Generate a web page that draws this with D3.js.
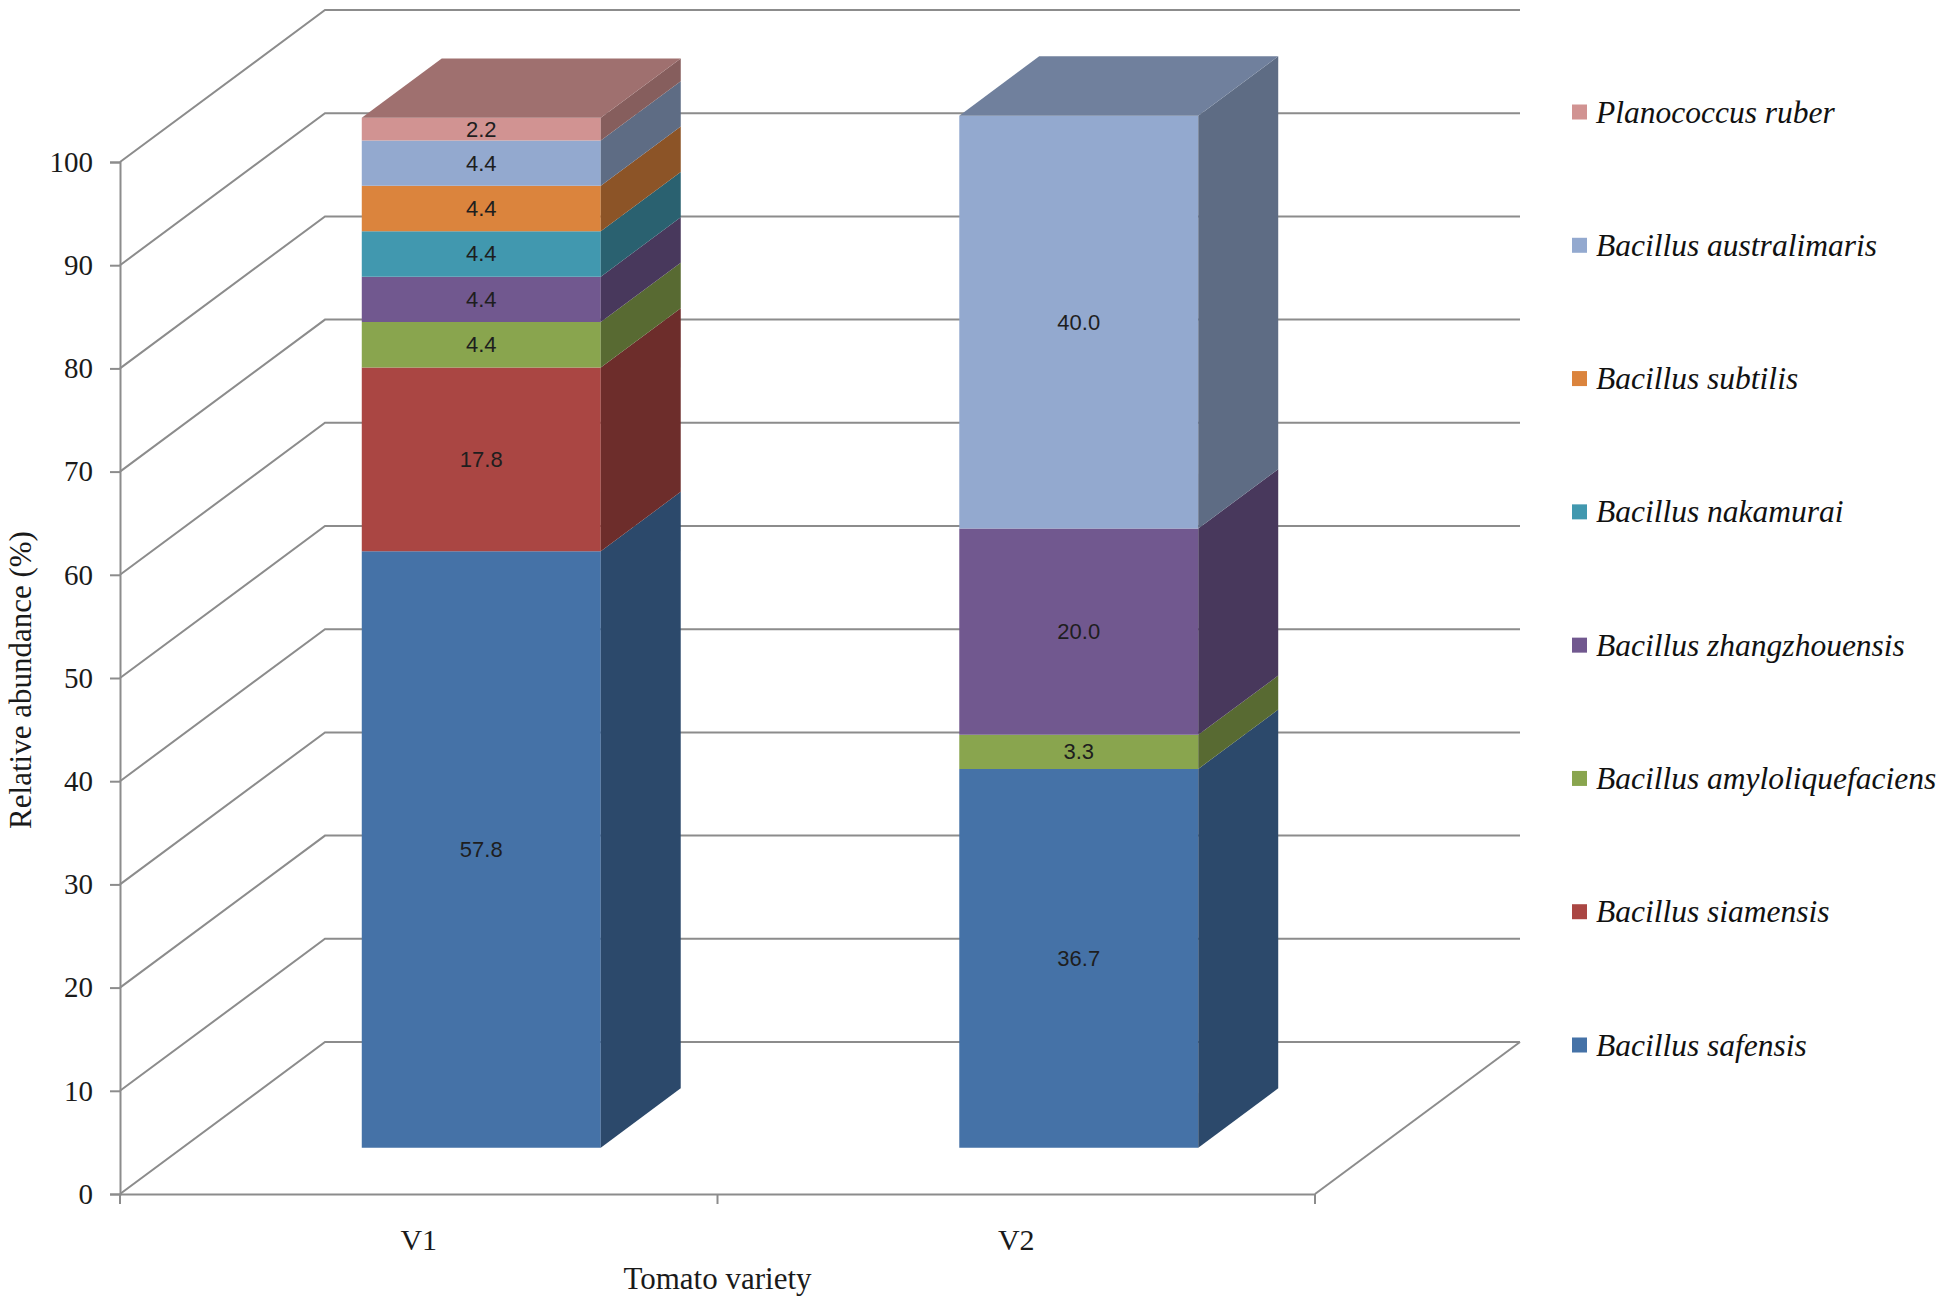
<!DOCTYPE html>
<html>
<head>
<meta charset="utf-8">
<script src="https://cdn.jsdelivr.net/npm/d3@7/dist/d3.min.js"></script>
<style>
  html, body { margin: 0; padding: 0; background: #ffffff; }
  svg { display: block; }
</style>
</head>
<body>
<script>
// ---------------- data ----------------
const categories = ["V1", "V2"];
const species = [
  "Bacillus safensis",
  "Bacillus siamensis",
  "Bacillus amyloliquefaciens",
  "Bacillus zhangzhouensis",
  "Bacillus nakamurai",
  "Bacillus subtilis",
  "Bacillus australimaris",
  "Planococcus ruber"
];
const v1Values = [57.8, 17.8, 4.4, 4.4, 4.4, 4.4, 4.4, 2.2];
const v2Values = [36.7, 0, 3.3, 20.0, 0, 0, 40.0, 0];
const yTicks = [0, 10, 20, 30, 40, 50, 60, 70, 80, 90, 100];
const colors = ["#4572A7", "#AA4643", "#89A54E", "#71588F", "#4198AF", "#DB843D", "#93A9CF", "#D19392"];
const xTitle = "Tomato variety";
const yTitle = "Relative abundance (%)";

// ---------------- layout ----------------
const W = 1950, H = 1299;
const DX = 205, DY = 152;          // full depth of the 3D box
const dFront = 0.305, dBack = 0.695; // bar depth range (fraction)
const gridColor = "#8c8c8c";

const svg = d3.select("body").append("svg")
  .attr("width", W).attr("height", H);

const y = d3.scaleLinear().domain([0, 100]).range([1194, 162]);
const x = d3.scaleBand().domain(categories).range([120, 1315]).padding(0);
const barW = x.bandwidth() * 0.4;

const proj = (px, v, d) => [px + d * DX, y(v) - d * DY];
const poly = pts => pts.map(p => p.join(",")).join(" ");

// ---------------- gridlines (walls) ----------------
const grid = svg.append("g").attr("fill", "none").attr("stroke", gridColor).attr("stroke-width", 2);
yTicks.forEach(t => {
  const a = proj(x.range()[0], t, 0), b = proj(x.range()[0], t, 1);
  grid.append("polyline").attr("points", poly([a, b, [x.range()[1] + DX, b[1]]]));
});
// floor right edge
grid.append("line")
  .attr("x1", x.range()[1]).attr("y1", y(0))
  .attr("x2", x.range()[1] + DX).attr("y2", y(0) - DY);

// ---------------- bars ----------------
const seriesByCat = { V1: v1Values, V2: v2Values };
const shade = (c, k) => { const r = d3.rgb(c); return d3.rgb(r.r * k, r.g * k, r.b * k).formatHex(); };

const bars = svg.append("g");
categories.forEach(cat => {
  const vals = seriesByCat[cat];
  const x0 = x(cat) + (x.bandwidth() - barW) / 2;
  const x1 = x0 + barW;
  let cum = 0;
  const segs = vals.map((v, i) => { const s = { v, i, lo: cum, hi: cum + v }; cum += v; return s; })
                   .filter(s => s.v > 0);
  segs.forEach((s, k) => {
    const col = colors[s.i];
    bars.append("polygon")
      .attr("points", poly([proj(x0, s.lo, dFront), proj(x1, s.lo, dFront), proj(x1, s.hi, dFront), proj(x0, s.hi, dFront)]))
      .attr("fill", col);
    bars.append("polygon")
      .attr("points", poly([proj(x1, s.lo, dFront), proj(x1, s.lo, dBack), proj(x1, s.hi, dBack), proj(x1, s.hi, dFront)]))
      .attr("fill", shade(col, 0.64));
    if (k === segs.length - 1) {
      bars.append("polygon")
        .attr("points", poly([proj(x0, s.hi, dFront), proj(x1, s.hi, dFront), proj(x1, s.hi, dBack), proj(x0, s.hi, dBack)]))
        .attr("fill", shade(col, 0.76));
    }
    const c = proj((x0 + x1) / 2, (s.lo + s.hi) / 2, dFront);
    bars.append("text")
      .attr("x", c[0]).attr("y", c[1])
      .attr("text-anchor", "middle").attr("dominant-baseline", "central")
      .attr("font-family", "'Liberation Sans', Arial, sans-serif")
      .attr("font-size", 22).attr("fill", "#1e1e1e")
      .text(s.v.toFixed(1));
  });
});

// ---------------- axes ----------------
const serif = "'Liberation Serif', 'Times New Roman', serif";
const yAxis = svg.append("g").attr("transform", `translate(${x.range()[0]},0)`)
  .call(d3.axisLeft(y).tickValues(yTicks).tickSize(10).tickPadding(17).tickFormat(d3.format("d")));
yAxis.selectAll("path, line").attr("stroke", gridColor).attr("stroke-width", 2);
yAxis.selectAll("text").attr("font-family", serif).attr("font-size", 29).attr("fill", "#1a1a1a");

const xAxis = svg.append("g").attr("transform", `translate(0,${y(0)})`)
  .call(d3.axisBottom(x).tickSize(0).tickPadding(35));
xAxis.select(".domain").attr("stroke", gridColor).attr("stroke-width", 2);
xAxis.selectAll("text").attr("font-family", serif).attr("font-size", 30).attr("fill", "#1a1a1a");
const bounds = categories.map(c => x(c)).concat([x.range()[1]]);
xAxis.selectAll(".bt").data(bounds).enter().append("line")
  .attr("x1", d => d).attr("x2", d => d).attr("y1", 0).attr("y2", 10)
  .attr("stroke", gridColor).attr("stroke-width", 2);

// titles
svg.append("text")
  .attr("x", (x.range()[0] + x.range()[1]) / 2).attr("y", 1289)
  .attr("text-anchor", "middle").attr("font-family", serif).attr("font-size", 31).attr("fill", "#1a1a1a")
  .text(xTitle);
svg.append("text")
  .attr("transform", `translate(31,${(y(0) + y(100)) / 2 + 2}) rotate(-90)`)
  .attr("text-anchor", "middle").attr("font-family", serif).attr("font-size", 31).attr("fill", "#1a1a1a")
  .text(yTitle);

// ---------------- legend ----------------
const legendOrder = species.map((s, i) => i).reverse();
const ly = d3.scalePoint().domain(legendOrder).range([112, 1045]);
const legend = svg.append("g");
legendOrder.forEach(i => {
  const cy = ly(i);
  legend.append("rect").attr("x", 1572).attr("y", cy - 7.5).attr("width", 15).attr("height", 15).attr("fill", colors[i]);
  legend.append("text")
    .attr("x", 1596).attr("y", cy).attr("dominant-baseline", "central")
    .attr("font-family", serif).attr("font-style", "italic").attr("font-size", 31.5).attr("fill", "#111")
    .text(species[i]);
});
</script>
</body>
</html>
